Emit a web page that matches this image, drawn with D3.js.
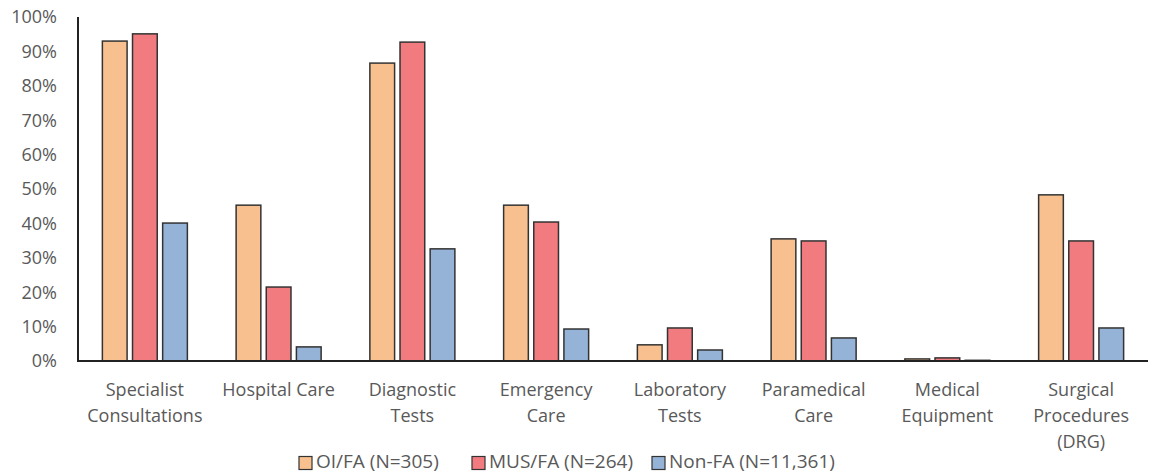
<!DOCTYPE html>
<html><head><meta charset="utf-8">
<script src="https://cdn.jsdelivr.net/npm/d3@7"></script>
<style>body{margin:0;background:#fff;} text{font-family:"Open Sans",sans-serif;}</style>
</head><body><svg id="c" width="1150" height="474"></svg>
<script>
const categories = [["Specialist","Consultations"],["Hospital Care"],["Diagnostic","Tests"],["Emergency","Care"],["Laboratory","Tests"],["Paramedical","Care"],["Medical","Equipment"],["Surgical","Procedures","(DRG)"]];
const seriesNames = ["OI/FA (N=305)","MUS/FA (N=264)","Non-FA (N=11,361)"];
const oiFA   = [93.0,45.3,86.6,45.3,4.7,35.5,0.6,48.3];
const musFA  = [95.1,21.5,92.7,40.4,9.6,34.9,0.9,34.9];
const nonFA  = [40.1,4.1,32.6,9.3,3.2,6.7,0.2,9.6];
const yTicks = [0,10,20,30,40,50,60,70,80,90,100];
const colors = ["#F9C08F","#F27B80","#94B3D7"];
const series = [oiFA, musFA, nonFA];

const svg = d3.select("#c");
const pLeft = 78, pRight = 1148, pTop = 17, pBottom = 361;
const x = d3.scaleBand().domain(d3.range(categories.length)).range([pLeft,pRight]).paddingInner(0).paddingOuter(0);
const y = d3.scaleLinear().domain([0,100]).range([pBottom,pTop]);
const inner = d3.scaleBand().domain(d3.range(3)).range([0,85]).paddingInner(0.18);
const offset = (x.bandwidth()-85)/2;
const fs = "18px";

// y axis labels
svg.append("g").selectAll("text").data(yTicks).join("text")
  .attr("x",57).attr("y",d=>y(d)).attr("dy","0.35em").attr("text-anchor","end")
  .attr("fill","#595959").style("font-size",fs).text(d=>d+"%");

// bars
series.forEach((s,si)=>{
  svg.append("g").selectAll("rect").data(s).join("rect")
    .attr("x",(d,i)=>x(i)+offset+inner(si)).attr("width",inner.bandwidth())
    .attr("y",d=>y(d)).attr("height",d=>y(0)-y(d))
    .attr("fill",colors[si]).attr("stroke","#333").attr("stroke-width",1.5);
});

// axes lines
svg.append("line").attr("x1",pLeft).attr("x2",pLeft).attr("y1",pTop).attr("y2",pBottom).attr("stroke","#222").attr("stroke-width",2);
svg.append("line").attr("x1",pLeft-1).attr("x2",pRight).attr("y1",pBottom).attr("y2",pBottom).attr("stroke","#222").attr("stroke-width",2);

// category labels
categories.forEach((lines,i)=>{
  const t = svg.append("text").attr("x",x(i)+x.bandwidth()/2).attr("y",396).attr("text-anchor","middle")
    .attr("fill","#595959").style("font-size",fs);
  lines.forEach((l,j)=>t.append("tspan").attr("x",x(i)+x.bandwidth()/2).attr("dy",j?26:0).text(l));
});

// legend
const pos = [299,472,652];
const items = svg.append("g").selectAll("g").data(seriesNames).join("g");
items.each(function(d,i){
  const g = d3.select(this);
  g.append("rect").attr("x",pos[i]).attr("y",456.5).attr("width",13).attr("height",13)
   .attr("fill",colors[i]).attr("stroke","#333").attr("stroke-width",1.2);
  g.append("text").attr("x",pos[i]+17).attr("y",461.5).attr("dy","0.35em").attr("fill","#595959")
   .style("font-size","19px").text(d);
});
</script></body></html>
